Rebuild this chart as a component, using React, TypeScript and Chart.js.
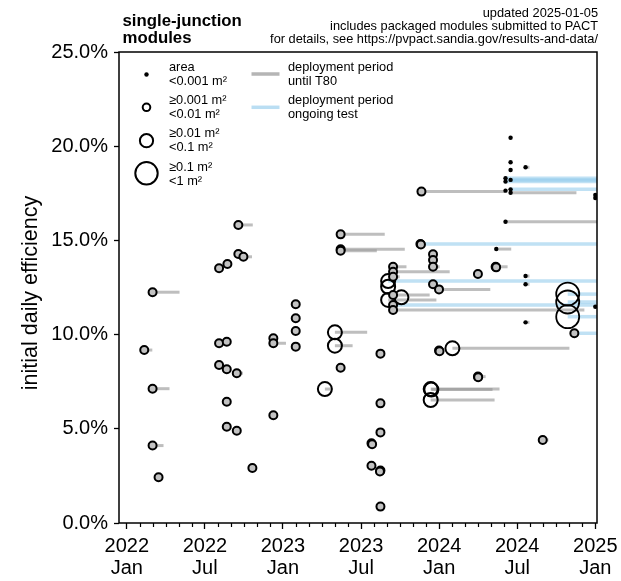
import React, { useEffect, useRef } from "react";
import { Chart, registerables } from "chart.js";

Chart.register(...registerables);

const FONT = '"Liberation Sans", Arial, Helvetica, sans-serif';

// x values: months since 2022-01-01
const startMonth = [
  1.34, 1.98, 1.98, 1.98, 2.44,
  7.09, 7.73, 8.57, 8.57, 8.96, 7.09, 7.68, 7.09, 7.68, 8.45, 7.68, 7.68, 8.45, 9.65,
  11.26, 11.26, 11.26, 12.98, 12.98, 12.98, 12.98,
  15.22, 15.99, 15.99, 16.43, 16.43, 16.43, 16.43,
  19.49, 19.49, 19.49, 18.8, 18.85, 18.8, 19.49, 19.45, 19.49,
  20.46, 20.46, 20.46, 20.08, 20.08, 20.46, 20.08, 21.1, 20.46, 20.46,
  22.64, 22.56, 22.6, 23.53, 23.53, 23.53, 23.53, 23.99, 23.99, 24.03, 25.02, 23.35, 23.4, 23.35,
  26.98, 28.34, 28.38, 28.39, 26.98, 27.0,
  29.1, 29.49, 29.49, 29.49, 30.64, 29.1, 29.1, 29.49, 29.1, 29.49, 29.49,
  30.64, 30.64, 30.64, 31.96,
  33.88, 33.88, 33.88, 34.39,
  36.0, 36.0, 36.0,
];
const endMonth = [
  1.96, 4.05, 3.28, 2.82, 2.44,
  7.09, 7.73, 9.68, 8.57, 9.62, 7.09, 7.68, 7.09, 7.68, 8.93, 7.68, 7.68, 8.45, 9.65,
  11.26, 12.23, 11.26, 12.98, 12.98, 12.98, 12.98,
  15.68, 18.47, 17.35, 19.82, 21.36, 19.21, 16.43,
  19.49, 19.49, 19.49, 18.8, 18.85, 18.8, 19.49, 19.45, 19.49,
  21.49, 24.81, 20.97, 36.13, 20.08, 23.27, 23.79, 21.1, 36.13, 35.16,
  29.1, 36.13, 22.6, 23.53, 23.53, 24.04, 23.53, 27.93, 23.99, 24.03, 34.01, 28.64, 28.1, 28.26,
  26.98, 29.26, 28.38, 29.54, 27.57, 27.0,
  36.13, 29.49, 29.49, 29.49, 30.94, 36.13, 36.13, 36.13, 29.1, 36.13, 34.55,
  30.94, 30.94, 30.94, 32.4,
  36.13, 36.13, 36.13, 36.13,
  36.0, 36.0, 36.0,
];
const efficiency = [
  9.18, 12.25, 7.13, 4.11, 2.43,
  13.52, 13.75, 15.82, 14.28, 14.13, 9.54, 9.62, 8.39, 8.16, 7.95, 6.44, 5.11, 4.9, 2.92,
  9.8, 9.54, 5.72, 11.61, 10.87, 10.19, 9.36,
  7.11, 10.12, 9.41, 15.32, 14.53, 14.45, 8.24,
  8.99, 6.35, 4.81, 4.23, 4.18, 3.04, 2.78, 2.74, 0.87,
  13.6, 13.34, 13.07, 12.84, 12.54, 12.1, 11.84, 11.98, 11.57, 11.31,
  17.59, 14.81, 14.78, 14.26, 13.96, 13.6, 12.67, 12.4, 9.15, 9.12, 9.27, 7.11, 7.08, 6.53,
  13.22, 13.6, 13.57, 14.54, 7.77, 7.74,
  15.99, 20.45, 19.15, 18.74, 18.88, 18.3, 18.12, 18.21, 17.64, 17.71, 17.53,
  13.11, 12.67, 10.65, 4.41,
  12.15, 11.73, 10.95, 10.07,
  17.41, 17.25, 11.48,
];
// 0: <0.001 m², 1: 0.001–0.01 m², 2: 0.01–0.1 m², 3: 0.1–1 m²
const areaClass = [
  1, 1, 1, 1, 1,
  1, 1, 1, 1, 1, 1, 1, 1, 1, 1, 1, 1, 1, 1,
  1, 1, 1, 1, 1, 1, 1,
  2, 2, 2, 1, 1, 1, 1,
  1, 1, 1, 1, 1, 1, 1, 1, 1,
  1, 1, 1, 2, 2, 1, 2, 2, 1, 1,
  1, 1, 1, 1, 1, 1, 1, 1, 1, 1, 2, 2, 2, 2,
  1, 1, 1, 0, 1, 1,
  0, 0, 0, 0, 0, 0, 0, 0, 0, 0, 0,
  0, 0, 0, 1,
  3, 3, 3, 1,
  0, 0, 0,
];
// 1: test ongoing, 0: deployment until T80
const ongoing = [
  0, 0, 0, 0, 0,
  0, 0, 0, 0, 0, 0, 0, 0, 0, 0, 0, 0, 0, 0,
  0, 0, 0, 0, 0, 0, 0,
  0, 0, 0, 0, 0, 0, 0,
  0, 0, 0, 0, 0, 0, 0, 0, 0,
  0, 0, 0, 1, 0, 0, 0, 0, 1, 0,
  0, 1, 0, 0, 0, 0, 0, 0, 0, 0, 0, 0, 0, 0,
  0, 0, 0, 0, 0, 0,
  0, 0, 0, 0, 0, 1, 1, 1, 0, 1, 0,
  0, 0, 0, 0,
  1, 1, 1, 1,
  0, 0, 0,
];

const xTickMonths = [0, 6, 12, 18, 24, 30, 36];
const xTickLabels = [
  ["2022", "Jan"], ["2022", "Jul"], ["2023", "Jan"], ["2023", "Jul"],
  ["2024", "Jan"], ["2024", "Jul"], ["2025", "Jan"],
];
const yTicks = [0, 5, 10, 15, 20, 25];

const headerLeft = ["single-junction", "modules"];
const headerRight = [
  "updated 2025-01-05",
  "includes packaged modules submitted to PACT",
  "for details, see https://pvpact.sandia.gov/results-and-data/",
];
const sizeLegend = [
  ["area", "<0.001 m²"],
  ["≥0.001 m²", "<0.01 m²"],
  ["≥0.01 m²", "<0.1 m²"],
  ["≥0.1 m²", "<1 m²"],
];
const lineLegend = [
  ["deployment period", "until T80"],
  ["deployment period", "ongoing test"],
];
const yTitle = "initial daily efficiency";

const GRAY_LINE = "rgba(150,150,150,0.62)";
const BLUE_LINE = "rgba(140,200,235,0.55)";
const SMALL_FILL = "#c2c2c2";
const radii = [2.2, 4, 7, 11.5];
const borderW = [0, 2, 2, 1.8];

const decor = {
  id: "decor",
  afterDraw(chart: any) {
    const ctx = chart.ctx as CanvasRenderingContext2D;
    const { left, right, top, bottom } = chart.chartArea;
    const xs = chart.scales.x;
    ctx.save();
    // frame
    ctx.strokeStyle = "#000";
    ctx.lineWidth = 1.5;
    ctx.strokeRect(left, top, right - left, bottom - top);
    // minor monthly ticks
    ctx.lineWidth = 1.2;
    for (let m = 0; m <= 36; m++) {
      if (m % 6 === 0) continue;
      const px = Math.round(xs.getPixelForValue(m)) + 0.5;
      ctx.beginPath();
      ctx.moveTo(px, bottom);
      ctx.lineTo(px, bottom + 4);
      ctx.stroke();
    }
    // y title
    ctx.fillStyle = "#000";
    ctx.save();
    ctx.translate(31, 293);
    ctx.rotate(-Math.PI / 2);
    ctx.font = `21.5px ${FONT}`;
    ctx.textAlign = "center";
    ctx.textBaseline = "middle";
    ctx.fillText(yTitle, 0, 0);
    ctx.restore();
    // header
    ctx.font = `bold 16.8px ${FONT}`;
    ctx.textAlign = "left";
    ctx.textBaseline = "alphabetic";
    ctx.fillText(headerLeft[0], 122.5, 25.5);
    ctx.fillText(headerLeft[1], 122.5, 42.5);
    ctx.font = `12.8px ${FONT}`;
    ctx.textAlign = "right";
    headerRight.forEach((t, i) => ctx.fillText(t, 598, 16.7 + i * 12.9));
    // legend: sizes
    const lx = 146.5;
    const ly = [74.5, 107.3, 140.7, 173.3];
    const tyA = [67, 100, 133, 167];
    const lr = [2.2, 3.8, 6.6, 11.2];
    ly.forEach((y, i) => {
      ctx.beginPath();
      ctx.arc(lx, y, lr[i], 0, Math.PI * 2);
      if (i === 0) {
        ctx.fillStyle = "#000";
        ctx.fill();
      } else {
        ctx.lineWidth = 2;
        ctx.strokeStyle = "#000";
        ctx.stroke();
      }
    });
    ctx.fillStyle = "#000";
    ctx.font = `12.8px ${FONT}`;
    ctx.textAlign = "left";
    ctx.textBaseline = "middle";
    sizeLegend.forEach((pair, i) => {
      ctx.fillText(pair[0], 169, tyA[i]);
      ctx.fillText(pair[1], 169, tyA[i] + 14);
    });
    // legend: lines
    const lineY = [74, 107.3];
    const lineColors = ["rgba(150,150,150,0.7)", "rgba(140,200,235,0.6)"];
    lineY.forEach((y, i) => {
      ctx.beginPath();
      ctx.strokeStyle = lineColors[i];
      ctx.lineWidth = 3.5;
      ctx.moveTo(251.5, y);
      ctx.lineTo(279.5, y);
      ctx.stroke();
    });
    ctx.fillStyle = "#000";
    lineLegend.forEach((pair, i) => {
      const y0 = i === 0 ? 67 : 100;
      ctx.fillText(pair[0], 288, y0);
      ctx.fillText(pair[1], 288, y0 + 14);
    });
    ctx.restore();
  },
};

export default function App() {
  const ref = useRef<HTMLCanvasElement | null>(null);
  useEffect(() => {
    document.body.style.margin = "0";
    const canvas = ref.current;
    if (!canvas) return;

    const lineSets: any[] = [];
    for (let i = 0; i < startMonth.length; i++) {
      if (endMonth[i] - startMonth[i] > 0.05) {
        lineSets.push({
          data: [
            { x: startMonth[i], y: efficiency[i] },
            { x: endMonth[i], y: efficiency[i] },
          ],
          showLine: true,
          borderColor: ongoing[i] ? BLUE_LINE : GRAY_LINE,
          borderWidth: ongoing[i] ? 3.5 : 3,
          borderCapStyle: "butt",
          pointRadius: 0,
          pointHoverRadius: 0,
          order: 2,
        });
      }
    }
    const pointSets = [0, 1, 2, 3].map((c) => ({
      data: startMonth
        .map((x, i) => ({ x, y: efficiency[i], c: areaClass[i] }))
        .filter((p) => p.c === c)
        .map((p) => ({ x: p.x, y: p.y })),
      pointRadius: radii[c],
      pointHoverRadius: radii[c],
      pointBorderWidth: borderW[c],
      pointBackgroundColor: c === 0 ? "#000" : c === 1 ? SMALL_FILL : "rgba(0,0,0,0)",
      pointBorderColor: "#000",
      showLine: false,
      order: 0,
    }));

    const chart = new Chart(canvas, {
      type: "scatter",
      data: { datasets: [...lineSets, ...pointSets] },
      options: {
        animation: false,
        responsive: false,
        devicePixelRatio: 1,
        layout: { padding: { top: 52, right: 24, left: 0, bottom: 0 } },
        plugins: { legend: { display: false }, tooltip: { enabled: false } },
        events: [],
        scales: {
          x: {
            type: "linear",
            min: -0.6,
            max: 36.13,
            afterBuildTicks: (s: any) => {
              s.ticks = xTickMonths.map((v) => ({ value: v }));
            },
            afterFit: (s: any) => {
              s.height = 58;
              s.paddingLeft = 0;
              s.paddingRight = 0;
            },
            ticks: {
              autoSkip: false,
              maxRotation: 0,
              minRotation: 0,
              padding: 6,
              color: "#000",
              font: { family: FONT, size: 20, lineHeight: 1.1 },
              callback: (v: any) => {
                const idx = xTickMonths.indexOf(Number(v));
                return idx >= 0 ? xTickLabels[idx] : "";
              },
            },
            grid: {
              drawOnChartArea: false,
              drawTicks: true,
              tickLength: 6,
              tickColor: "#000",
              tickWidth: 1.3,
            },
            border: { display: false },
          },
          y: {
            type: "linear",
            min: 0,
            max: 25,
            afterBuildTicks: (s: any) => {
              s.ticks = yTicks.map((v) => ({ value: v }));
            },
            afterFit: (s: any) => {
              s.width = 119;
              s.paddingTop = 0;
              s.paddingBottom = 0;
            },
            ticks: {
              padding: 6,
              color: "#000",
              font: { family: FONT, size: 20 },
              callback: (v: any) => Number(v).toFixed(1) + "%",
            },
            grid: {
              drawOnChartArea: false,
              drawTicks: true,
              tickLength: 5,
              tickColor: "#000",
              tickWidth: 1.3,
            },
            border: { display: false },
          },
        },
      },
      plugins: [decor],
    });
    return () => chart.destroy();
  }, []);

  return (
    <div style={{ width: 621, height: 581 }}>
      <canvas ref={ref} width={621} height={581} style={{ display: "block" }} />
    </div>
  );
}
